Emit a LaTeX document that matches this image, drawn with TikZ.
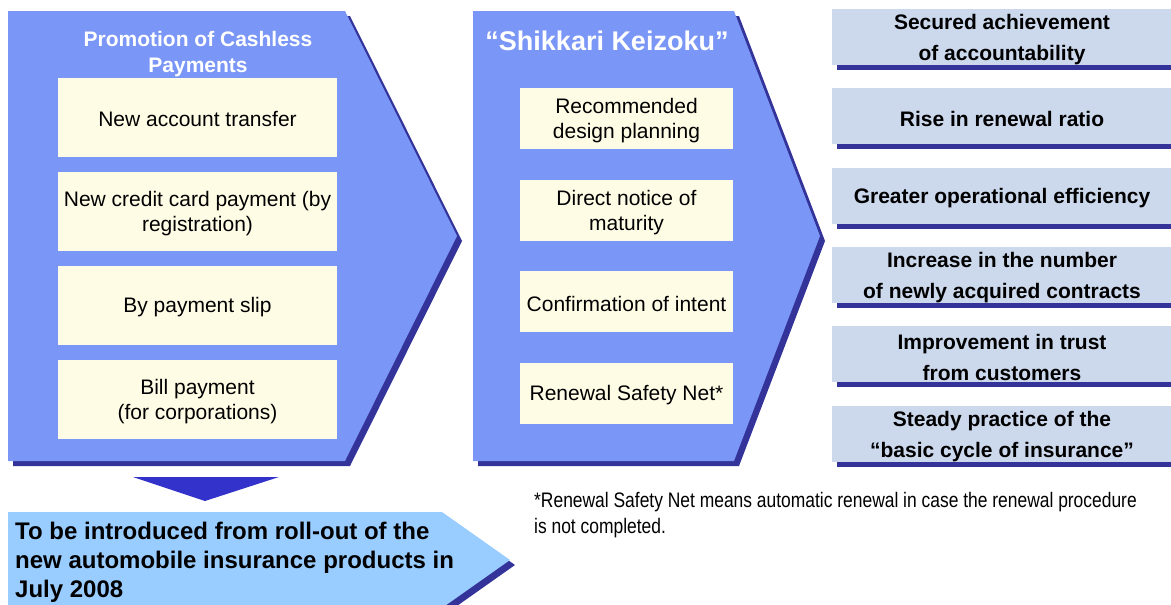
\documentclass[tikz,border=0pt]{standalone}
\usepackage{fontspec}
\setmainfont{Liberation Sans}
\newfontfamily\narrowfont{Liberation Sans}[FakeStretch=0.83]
\usetikzlibrary{shadows}

\definecolor{chevblue}{RGB}{122,150,246}
\definecolor{shadowblue}{RGB}{51,51,153}
\definecolor{itemyellow}{RGB}{255,252,230}
\definecolor{resultgrey}{RGB}{204,216,236}
\definecolor{arrowblue}{RGB}{51,51,204}
\definecolor{skyblue}{RGB}{153,204,255}

\tikzset{
  dshadow/.style={drop shadow={shadow xshift=5pt,shadow yshift=-5pt,fill=shadowblue,opacity=1}},
  chevron/.style={fill=chevblue,dshadow},
  itembox/.style={fill=itemyellow,inner sep=0pt},
  wideitem/.style={itembox,minimum width=279pt,minimum height=79pt},
  narrowitem/.style={itembox,minimum width=213pt,minimum height=61pt},
  itemtext/.style={inner sep=0pt,align=center,yshift=-2pt,
    font=\fontsize{21}{25.5}\selectfont},
  resultbox/.style={fill=resultgrey,dshadow,inner sep=0pt,
    minimum width=340pt,minimum height=56pt},
  resulttext/.style={inner sep=0pt,align=center,yshift=-3pt,
    font=\bfseries\fontsize{21}{31}\selectfont},
  chevtitle/.style={text=white,align=center,inner sep=0pt},
}

\begin{document}
\begin{tikzpicture}[x=1pt,y=-1pt]
\useasboundingbox (0,0) rectangle (1171,605);
\clip (0,0) rectangle (1171,605);

% first chevron: cashless payments
\path[chevron] (8,11) -- (345,11) -- (457,236) -- (345,461) -- (8,461) -- cycle;
\node[chevtitle,font=\bfseries\fontsize{21}{26}\selectfont] (t1) at (198,54)
  {Promotion of Cashless\\Payments};
\node[wideitem] (a1) at (197.5,117.5) {};
\node[itemtext] (a1t) at (a1.center) {New account transfer};
\node[wideitem] (a2) at (197.5,211.5) {};
\node[itemtext] (a2t) at (a2.center) {New credit card payment (by\\registration)};
\node[wideitem] (a3) at (197.5,305) {};
\node[itemtext] (a3t) at (a3.center) {By payment slip};
\node[wideitem] (a4) at (197.5,399.5) {};
\node[itemtext] (a4t) at (a4.center) {Bill payment\\(for corporations)};

% second chevron: Shikkari Keizoku
\path[chevron] (473,11) -- (734,11) -- (820,236) -- (734,461) -- (473,461) -- cycle;
\node[chevtitle,font=\bfseries\fontsize{27}{32}\selectfont] (t2) at (607,41)
  {“Shikkari Keizoku”};
\node[narrowitem] (b1) at (626.5,118.5) {};
\node[itemtext] (b1t) at (b1.center) {Recommended\\design planning};
\node[narrowitem] (b2) at (626.5,210.5) {};
\node[itemtext] (b2t) at (b2.center) {Direct notice of\\maturity};
\node[narrowitem] (b3) at (626.5,301.5) {};
\node[itemtext] (b3t) at (b3.center) {Confirmation of intent};
\node[narrowitem] (b4) at (626.5,393) {};
\node[itemtext] (b4t) at (b4.center) {Renewal Safety Net*};

% results column
\node[resultbox] (r1) at (1002,37) {};
\node[resulttext] (r1t) at (r1.center) {Secured achievement\\of accountability};
\node[resultbox] (r2) at (1002,116) {};
\node[resulttext] (r2t) at (r2.center) {Rise in renewal ratio};
\node[resultbox] (r3) at (1002,195.5) {};
\node[resulttext] (r3t) at (r3.center) {Greater operational efficiency};
\node[resultbox] (r4) at (1002,275) {};
\node[resulttext] (r4t) at (r4.center) {Increase in the number\\of newly acquired contracts};
\node[resultbox] (r5) at (1002,354) {};
\node[resulttext] (r5t) at (r5.center) {Improvement in trust\\from customers};
\node[resultbox] (r6) at (1002,434) {};
\node[resulttext] (r6t) at (r6.center) {Steady practice of the\\“basic cycle of insurance”};

% downward marker and roll-out arrow
\fill[arrowblue] (133,477) -- (279,477) -- (205,501) -- cycle;
\path[fill=skyblue,dshadow] (8,512) -- (442,512) -- (510,560) -- (442,608) -- (8,608) -- cycle;
\node[anchor=west,inner sep=0pt,align=left,font=\bfseries\fontsize{24}{29}\selectfont] (roll) at (15,562)
  {To be introduced from roll-out of the\\new automobile insurance products in\\July 2008};

% footnote
\node[anchor=north west,inner sep=0pt,align=left,font=\narrowfont\fontsize{21}{25.5}\selectfont] (note) at (534,492.5)
  {*Renewal Safety Net means automatic renewal in case the renewal procedure\\is not completed.};
\end{tikzpicture}
\end{document}
